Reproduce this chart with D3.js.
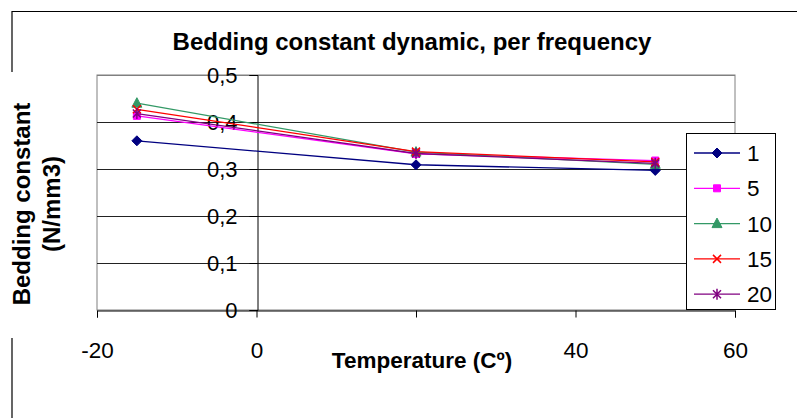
<!DOCTYPE html>
<html>
<head>
<meta charset="utf-8">
<script src="https://cdn.jsdelivr.net/npm/d3@7"></script>
<style>
  html, body { margin: 0; padding: 0; background: #fff; }
  svg { display: block; font-family: "Liberation Sans", Arial, sans-serif; }
</style>
</head>
<body>
<svg id="chart" width="797" height="418"></svg>
<script>
// ---- data ----
const xValues = [-15, 20, 50];
const seriesNames = ["1", "5", "10", "15", "20"];
const s1  = [0.360, 0.309, 0.297];
const s5  = [0.413, 0.332, 0.318];
const s10 = [0.440, 0.336, 0.310];
const s15 = [0.427, 0.337, 0.315];
const s20 = [0.418, 0.333, 0.312];
const xTicks = [-20, 0, 20, 40, 60];
const xTickLabels = ["-20", "0", "", "40", "60"];
const yTicks = [0, 0.1, 0.2, 0.3, 0.4, 0.5];
const yTickLabels = ["0", "0,1", "0,2", "0,3", "0,4", "0,5"];
const titleText = "Bedding constant dynamic, per frequency";
const xTitle = "Temperature (Cº)";
const yTitleLines = ["Bedding constant", "(N/mm3)"];

const seriesValues = [s1, s5, s10, s15, s20];
const colors = ["#000080", "#FF00FF", "#339966", "#FF0000", "#800080"];
const markers = ["diamond", "square", "triangle", "x", "star"];

const svg = d3.select("#chart");
const plot = { left: 97, right: 735, top: 75, bottom: 310 };

const x = d3.scaleLinear().domain([-20, 60]).range([plot.left, plot.right]);
const y = d3.scaleLinear().domain([0, 0.5]).range([plot.bottom, plot.top]);

// outer frame (partial, as in reference)
svg.append("path")
  .attr("d", "M12,72 V11.5 H797 M12,338 V418")
  .attr("fill", "none").attr("stroke", "#000").attr("stroke-width", 1.2);

// title
svg.append("text")
  .attr("x", 412).attr("y", 50)
  .attr("text-anchor", "middle")
  .attr("font-weight", "bold").attr("font-size", 24)
  .text(titleText);

// plot area border
svg.append("rect")
  .attr("x", plot.left).attr("y", plot.top)
  .attr("width", plot.right - plot.left).attr("height", plot.bottom - plot.top)
  .attr("fill", "#fff").attr("stroke", "#808080").attr("stroke-width", 1);

// gridlines
svg.append("g").selectAll("line")
  .data(yTicks.filter(d => d > 0))
  .join("line")
  .attr("x1", plot.left).attr("x2", plot.right)
  .attr("y1", d => Math.round(y(d)) + 0.5).attr("y2", d => Math.round(y(d)) + 0.5)
  .attr("stroke", d => d === 0.5 ? "#808080" : "#222").attr("stroke-width", 1);

// x axis at y=0
const xAxis = d3.axisBottom(x)
  .tickValues(xTicks)
  .tickFormat((d, i) => xTickLabels[i])
  .tickSizeOuter(0).tickSize(7).tickPadding(25);
const gx = svg.append("g")
  .attr("transform", `translate(0,${Math.round(y(0)) + 0.5})`)
  .call(xAxis);
gx.select(".domain").attr("stroke", "#000");
gx.selectAll(".tick line").attr("stroke", "#000");
gx.selectAll(".tick text").attr("font-size", 22.5).attr("fill", "#000")
  .attr("font-family", "'Liberation Sans', Arial, sans-serif");

// y axis at x=0
const yAxis = d3.axisLeft(y)
  .tickValues(yTicks)
  .tickFormat((d, i) => yTickLabels[i])
  .tickSizeOuter(0).tickSize(8).tickPadding(12);
const gy = svg.append("g")
  .attr("transform", `translate(${Math.round(x(0)) + 0.5},0)`)
  .call(yAxis);
gy.select(".domain").attr("stroke", "#000");
gy.selectAll(".tick line").attr("stroke", "#000");
gy.selectAll(".tick text").attr("font-size", 22).attr("fill", "#000")
  .attr("font-family", "'Liberation Sans', Arial, sans-serif");

// axis titles
svg.append("text")
  .attr("x", 422).attr("y", 368)
  .attr("text-anchor", "middle")
  .attr("font-weight", "bold").attr("font-size", 22.5)
  .text(xTitle);

const yt = svg.append("text")
  .attr("transform", "translate(30,204) rotate(-90)")
  .attr("text-anchor", "middle")
  .attr("font-weight", "bold").attr("font-size", 24);
yt.append("tspan").attr("x", 0).attr("y", 0).text(yTitleLines[0]);
yt.append("tspan").attr("x", 0).attr("y", 30).text(yTitleLines[1]);

// marker path generator
function markerPath(type) {
  switch (type) {
    case "diamond": return "M0,-5L5,0L0,5L-5,0Z";
    case "square": return d3.symbol(d3.symbolSquare, 49)();
    case "triangle": return "M0,-5.5L5,4L-5,4Z";
    case "x": return "M-4,-4L4,4M-4,4L4,-4";
    case "star": return "M-4,-4L4,4M-4,4L4,-4M0,-5.5L0,5.5";
  }
}
const filled = t => t === "diamond" || t === "square" || t === "triangle";

const line = d3.line().x((d, i) => x(xValues[i])).y(d => y(d));

seriesValues.forEach((vals, si) => {
  const g = svg.append("g");
  g.append("path")
    .attr("d", line(vals))
    .attr("fill", "none").attr("stroke", colors[si]).attr("stroke-width", 1.3);
  g.selectAll("path.m")
    .data(vals)
    .join("path")
    .attr("class", "m")
    .attr("transform", (d, i) => `translate(${x(xValues[i])},${y(d)})`)
    .attr("d", markerPath(markers[si]))
    .attr("fill", filled(markers[si]) ? colors[si] : "none")
    .attr("stroke", colors[si])
    .attr("stroke-width", filled(markers[si]) ? 1 : 1.5);
});

// legend
const leg = svg.append("g");
leg.append("rect")
  .attr("x", 686.5).attr("y", 133.5).attr("width", 89).attr("height", 176)
  .attr("fill", "#fff").attr("stroke", "#000").attr("stroke-width", 1);
seriesNames.forEach((name, si) => {
  const cy = 153 + si * 35.3;
  leg.append("line")
    .attr("x1", 694).attr("x2", 740).attr("y1", cy).attr("y2", cy)
    .attr("stroke", colors[si]).attr("stroke-width", 1.3);
  leg.append("path")
    .attr("transform", `translate(717,${cy})`)
    .attr("d", markerPath(markers[si]))
    .attr("fill", filled(markers[si]) ? colors[si] : "none")
    .attr("stroke", colors[si])
    .attr("stroke-width", filled(markers[si]) ? 1 : 1.5);
  leg.append("text")
    .attr("x", 747).attr("y", cy).attr("dy", "0.36em")
    .attr("font-size", 22.5)
    .text(name);
});
</script>
</body>
</html>
